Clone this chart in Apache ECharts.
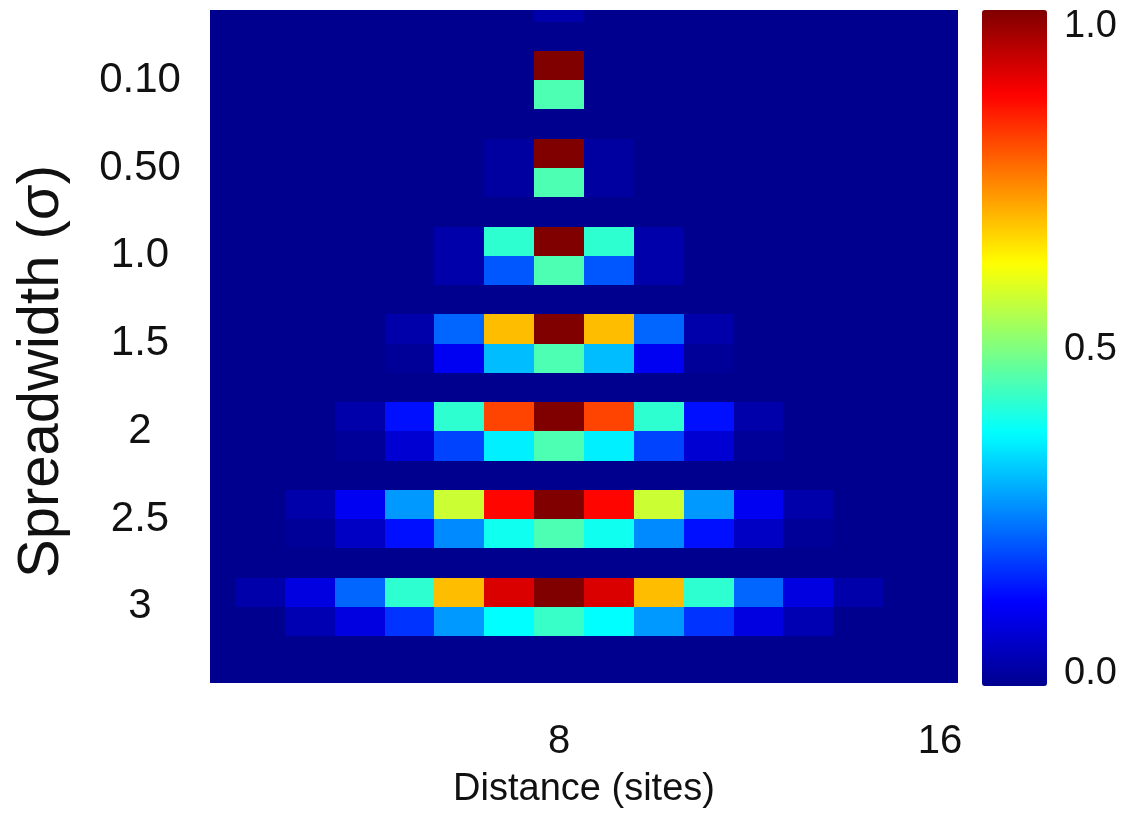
<!DOCTYPE html>
<html>
<head>
<meta charset="utf-8">
<script src="https://cdn.jsdelivr.net/npm/echarts@6/dist/echarts.min.js"></script>
<style>
  html, body { margin: 0; padding: 0; background: #ffffff; }
  #chart { width: 1122px; height: 814px; }
</style>
</head>
<body>
<div id="chart"></div>
<script>
// ---------------- data ----------------
// x positions (sites) of the 16 columns
const sites = [1, 2, 3, 4, 5, 6, 7, 8, 9, 10, 11, 12, 13, 14, 15, 16];
// spread widths (y tick labels), one block of two rows each
const sigmaLabels = ['0.10', '0.50', '1.0', '1.5', '2', '2.5', '3'];
// x tick labels
const xTickValues = [8, 16];
// colour bar tick values
const cbarTicks = [0, 0.5, 1];

// partially visible first row at the top of the map
const topRow = [0, 0, 0, 0, 0, 0, 0, 0.03, 0, 0, 0, 0, 0, 0, 0, 0];

// upper row of each sigma block (sites 1..16)
const upper_010 = [0, 0, 0, 0, 0, 0, 0, 1.00, 0, 0, 0, 0, 0, 0, 0, 0];
const upper_050 = [0, 0, 0, 0, 0, 0, 0.02, 1.00, 0.02, 0, 0, 0, 0, 0, 0, 0];
const upper_10  = [0, 0, 0, 0, 0, 0.03, 0.42, 1.00, 0.42, 0.03, 0, 0, 0, 0, 0, 0];
const upper_15  = [0, 0, 0, 0, 0.03, 0.225, 0.69, 1.00, 0.69, 0.225, 0.03, 0, 0, 0, 0, 0];
const upper_20  = [0, 0, 0, 0.03, 0.14, 0.42, 0.81, 1.00, 0.81, 0.42, 0.14, 0.03, 0, 0, 0, 0];
const upper_25  = [0, 0, 0.03, 0.11, 0.275, 0.575, 0.87, 1.00, 0.87, 0.575, 0.275, 0.11, 0.03, 0, 0, 0];
const upper_30  = [0, 0.03, 0.09, 0.225, 0.42, 0.69, 0.91, 1.00, 0.91, 0.69, 0.42, 0.225, 0.09, 0.03, 0, 0];

// lower row of each sigma block (sites 1..16)
const lower_010 = [0, 0, 0, 0, 0, 0, 0, 0.45, 0, 0, 0, 0, 0, 0, 0, 0];
const lower_050 = [0, 0, 0, 0, 0, 0, 0.02, 0.45, 0.02, 0, 0, 0, 0, 0, 0, 0];
const lower_10  = [0, 0, 0, 0, 0, 0.03, 0.21, 0.45, 0.21, 0.03, 0, 0, 0, 0, 0, 0];
const lower_15  = [0, 0, 0, 0, 0.01, 0.11, 0.31, 0.45, 0.31, 0.11, 0.01, 0, 0, 0, 0, 0];
const lower_20  = [0, 0, 0, 0.01, 0.075, 0.19, 0.36, 0.45, 0.36, 0.19, 0.075, 0.01, 0, 0, 0, 0];
const lower_25  = [0, 0, 0.01, 0.06, 0.14, 0.26, 0.39, 0.45, 0.39, 0.26, 0.14, 0.06, 0.01, 0, 0, 0];
const lower_30  = [0, 0, 0.04, 0.09, 0.175, 0.275, 0.375, 0.43, 0.375, 0.275, 0.175, 0.09, 0.04, 0, 0, 0];

const upperRows = [upper_010, upper_050, upper_10, upper_15, upper_20, upper_25, upper_30];
const lowerRows = [lower_010, lower_050, lower_10, lower_15, lower_20, lower_25, lower_30];

// jet colour map stops
const jet = ['#00008F', '#0000FF', '#0080FF', '#00FFFF', '#80FF80',
             '#FFFF00', '#FF8000', '#FF0000', '#800000'];

// ------------- build rows: blank / upper / lower per block -------------
const rowCount = 24;
const rows = [];
for (let r = 0; r < rowCount; r++) rows.push(null);
rows[0] = topRow;
for (let g = 0; g < sigmaLabels.length; g++) {
  rows[3 * g + 2] = upperRows[g];
  rows[3 * g + 3] = lowerRows[g];
}
const cells = [];
for (let r = 0; r < rowCount; r++) {
  for (let i = 0; i < sites.length; i++) {
    cells.push([sites[i], r, rows[r] ? rows[r][i] : 0]);
  }
}
const yTickValues = sigmaLabels.map((_, g) => 3 * g + 2.5);

const FONT = 'Liberation Sans, Arial, sans-serif';

function renderCell(params, api) {
  const x = api.value(0), y = api.value(1);
  const a = api.coord([x - 0.5, y - 0.5]);
  const b = api.coord([x + 0.5, y + 0.5]);
  const cs = params.coordSys;
  const x0 = Math.round(Math.max(Math.min(a[0], b[0]), cs.x));
  const x1 = Math.round(Math.min(Math.max(a[0], b[0]), cs.x + cs.width));
  const y0 = Math.round(Math.max(Math.min(a[1], b[1]), cs.y));
  const y1 = Math.round(Math.min(Math.max(a[1], b[1]), cs.y + cs.height));
  if (x1 <= x0 || y1 <= y0) return;
  return {
    type: 'rect',
    shape: { x: x0, y: y0, width: x1 - x0, height: y1 - y0 },
    style: { fill: api.visual('color') }
  };
}

const chart = echarts.init(document.getElementById('chart'), null, { renderer: 'canvas' });
chart.setOption({
  animation: false,
  backgroundColor: '#ffffff',
  textStyle: { fontFamily: FONT },
  grid: [
    { left: 210, top: 10, width: 748, height: 676, show: true,
      backgroundColor: jet[0], borderWidth: 0 },
    { left: 982, top: 10, width: 65, height: 676 }
  ],
  xAxis: [
    {
      gridIndex: 0, type: 'value', min: 1, max: 16,
      axisLine: { show: false }, axisTick: { show: false }, splitLine: { show: false },
      axisLabel: {
        customValues: xTickValues, margin: 39, color: '#111', fontSize: 40, fontFamily: FONT,
        formatter: v => (v === 16 ? '{e|16}' : '{n|' + v + '}'),
        rich: {
          e: { fontSize: 40, fontFamily: FONT, color: '#111', padding: [0, 36, 0, 0] },
          n: { fontSize: 40, fontFamily: FONT, color: '#111' }
        }
      },
      name: 'Distance (sites)', nameLocation: 'middle', nameGap: 88,
      nameTextStyle: { fontSize: 38, color: '#111', fontFamily: FONT }
    },
    { gridIndex: 1, type: 'value', min: 0, max: 1, show: false }
  ],
  yAxis: [
    {
      gridIndex: 0, type: 'value', inverse: true, min: 0.1, max: 23.1,
      axisLine: { show: false }, axisTick: { show: false }, splitLine: { show: false },
      axisLabel: {
        customValues: yTickValues, margin: 70, align: 'center',
        color: '#111', fontSize: 42, fontFamily: FONT,
        formatter: v => sigmaLabels[Math.round((v - 2.5) / 3)]
      },
      name: 'Spreadwidth (σ)', nameLocation: 'middle', nameGap: 139,
      nameTextStyle: { fontSize: 58, color: '#111', fontFamily: FONT, padding: [0, 50, 0, 0] }
    },
    {
      gridIndex: 1, type: 'value', min: 0, max: 1, position: 'right',
      axisLine: { show: false }, axisTick: { show: false }, splitLine: { show: false },
      axisLabel: {
        customValues: cbarTicks, margin: 17, color: '#111', fontSize: 38, fontFamily: FONT,
        formatter: v => {
          const t = v.toFixed(1);
          if (v === 1) return '{t|' + t + '}';
          if (v === 0) return '{b|' + t + '}';
          return '{m|' + t + '}';
        },
        rich: {
          t: { fontSize: 38, fontFamily: FONT, color: '#111', padding: [34, 0, 0, 0] },
          b: { fontSize: 38, fontFamily: FONT, color: '#111', padding: [0, 0, 24, 0] },
          m: { fontSize: 38, fontFamily: FONT, color: '#111', padding: [4, 0, 0, 0] }
        }
      }
    }
  ],
  visualMap: {
    type: 'continuous', min: 0, max: 1, dimension: 2, seriesIndex: 0,
    calculable: false, realtime: false, text: null, padding: 0,
    left: 982, top: 10, itemWidth: 65, itemHeight: 676,
    inRange: { color: jet }
  },
  series: [
    {
      type: 'custom', xAxisIndex: 0, yAxisIndex: 0,
      renderItem: renderCell,
      encode: { x: 0, y: 1 },
      data: cells
    }
  ]
});
</script>
</body>
</html>
